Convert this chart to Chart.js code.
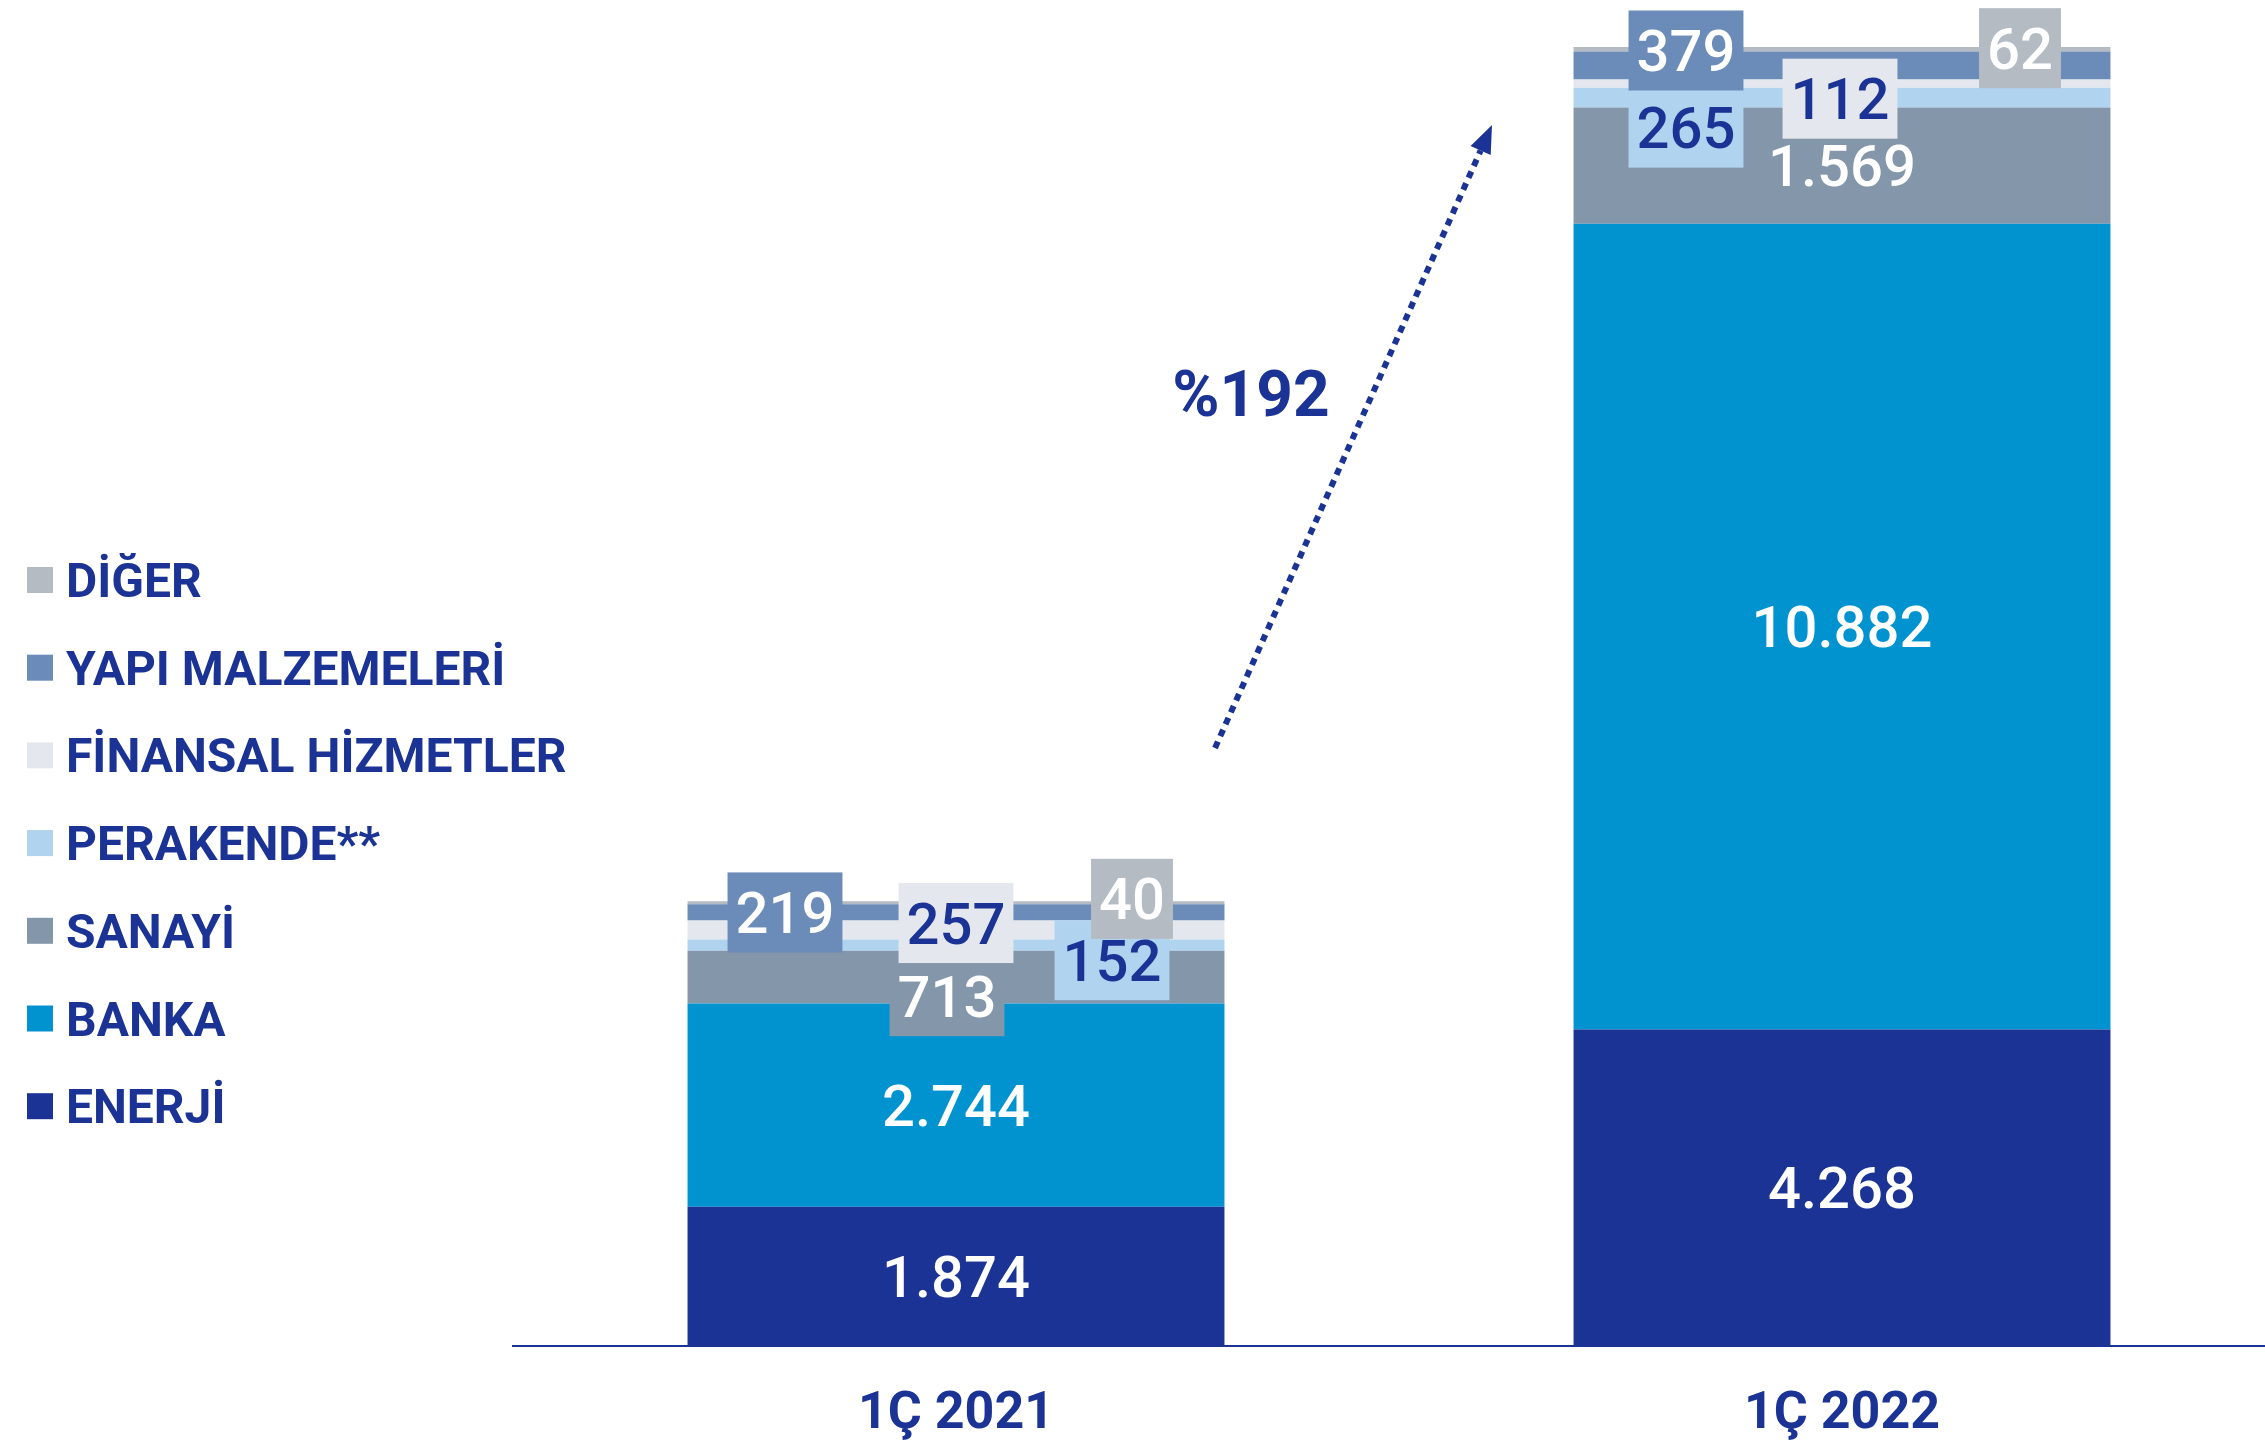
<!DOCTYPE html>
<html>
<head>
<meta charset="utf-8">
<script src="https://cdn.jsdelivr.net/npm/chart.js@4.4.1/dist/chart.umd.min.js"></script>
<style>
  html, body { margin: 0; padding: 0; background: #fff; overflow: hidden; width: 2265px; height: 1447px; }
  #chart { display: block; }
</style>
</head>
<body>
<canvas id="chart" width="2285" height="1484"></canvas>
<script>
// periods and sector values (bottom of the stack first)
const periods = ["1Ç 2021", "1Ç 2022"];
const sectors = ["ENERJİ", "BANKA", "SANAYİ", "PERAKENDE**", "FİNANSAL HİZMETLER", "YAPI MALZEMELERİ", "DİĞER"];
const enerji = [1874, 4268];
const banka = [2744, 10882];
const sanayi = [713, 1569];
const perakende = [152, 265];
const finansal = [257, 112];
const yapi = [219, 379];
const diger = [40, 62];
const growthLabel = "%192";

const navy = "#1B3394";
const colors = ["#1B3394", "#0093D0", "#8496AA", "#B0D3EF", "#E4E8EE", "#6B8CB8", "#B4BBC3"];
const labelColors = ["#fff", "#fff", "#fff", navy, navy, "#fff", "#fff"];
// boxed labels sit off the thin segments: [dx, dy] per bar
const labelShift = [
  [[0, 0], [0, 0]],
  [[0, 0], [0, 0]],
  [[-9, 19], [0, 0]],
  [[156, 15], [-156, 30]],
  [[0, -7], [-2, 15]],
  [[-171, 0], [-156, -15]],
  [[176, -4], [178, -1]]
];
const boxed = [false, false, true, true, true, true, true];

function fmt(v) {
  return String(v).replace(/\B(?=(\d{3})+(?!\d))/g, ".");
}

const series = [enerji, banka, sanayi, perakende, finansal, yapi, diger];

const valueLabels = {
  id: "valueLabels",
  afterDatasetsDraw(chart) {
    const ctx = chart.ctx;
    ctx.save();
    ctx.font = "500 58px Roboto";
    ctx.textAlign = "center";
    ctx.textBaseline = "middle";
    chart.data.datasets.forEach((ds, i) => {
      const meta = chart.getDatasetMeta(i);
      meta.data.forEach((bar, j) => {
        const x = bar.x + labelShift[i][j][0];
        const y = (bar.y + bar.base) / 2 + labelShift[i][j][1];
        const txt = fmt(ds.data[j]);
        if (boxed[i]) {
          const w = ctx.measureText(txt).width + 16;
          const h = 80;
          ctx.fillStyle = colors[i];
          ctx.fillRect(x - w / 2, y - h / 2, w, h);
        }
        ctx.fillStyle = labelColors[i];
        ctx.fillText(txt, x, y + 6);
      });
    });
    ctx.restore();
  }
};

const sideLegend = {
  id: "sideLegend",
  afterDraw(chart) {
    const ctx = chart.ctx;
    ctx.save();
    ctx.font = "bold 48px Roboto";
    ctx.textBaseline = "middle";
    const items = chart.data.datasets.slice().reverse();
    items.forEach((ds, k) => {
      const y = 580 + k * 87.7;
      ctx.fillStyle = ds.backgroundColor;
      ctx.fillRect(27, y - 13, 26, 26);
      ctx.fillStyle = navy;
      ctx.fillText(ds.label, 66, y + 5);
    });
    ctx.restore();
  }
};

const growthArrow = {
  id: "growthArrow",
  afterDraw(chart) {
    const ctx = chart.ctx;
    const x0 = 1215, y0 = 748, x1 = 1492, y1 = 125;
    const len = Math.hypot(x1 - x0, y1 - y0);
    const ux = (x1 - x0) / len, uy = (y1 - y0) / len;
    const head = 28;
    ctx.save();
    ctx.strokeStyle = navy;
    ctx.lineWidth = 6;
    ctx.setLineDash([7, 6]);
    ctx.beginPath();
    ctx.moveTo(x0, y0);
    ctx.lineTo(x1 - ux * head, y1 - uy * head);
    ctx.stroke();
    ctx.setLineDash([]);
    ctx.fillStyle = navy;
    ctx.beginPath();
    ctx.moveTo(x1, y1);
    ctx.lineTo(x1 - ux * head - uy * 11, y1 - uy * head + ux * 11);
    ctx.lineTo(x1 - ux * head + uy * 11, y1 - uy * head - ux * 11);
    ctx.closePath();
    ctx.fill();
    ctx.font = "bold 64px Roboto";
    ctx.textAlign = "center";
    ctx.textBaseline = "middle";
    ctx.fillText(growthLabel, 1251, 400);
    ctx.restore();
  }
};

new Chart(document.getElementById("chart"), {
  type: "bar",
  data: {
    labels: periods,
    datasets: series.map((vals, i) => ({
      label: sectors[i],
      data: vals,
      backgroundColor: colors[i],
      borderWidth: 0,
      barPercentage: 0.606,
      categoryPercentage: 1
    }))
  },
  options: {
    responsive: false,
    animation: false,
    devicePixelRatio: 1,
    layout: { padding: { left: 513, right: 0, top: 0, bottom: 0 } },
    plugins: { legend: { display: false }, tooltip: { enabled: false } },
    scales: {
      x: {
        stacked: true,
        grid: { display: false, drawTicks: false },
        border: { display: true, color: navy, width: 2 },
        ticks: { color: navy, font: { family: "Roboto", size: 52, weight: "bold" }, padding: 38 }
      },
      y: {
        stacked: true,
        display: false,
        min: 0,
        max: 18170
      }
    }
  },
  plugins: [valueLabels, sideLegend, growthArrow]
});
</script>
</body>
</html>
